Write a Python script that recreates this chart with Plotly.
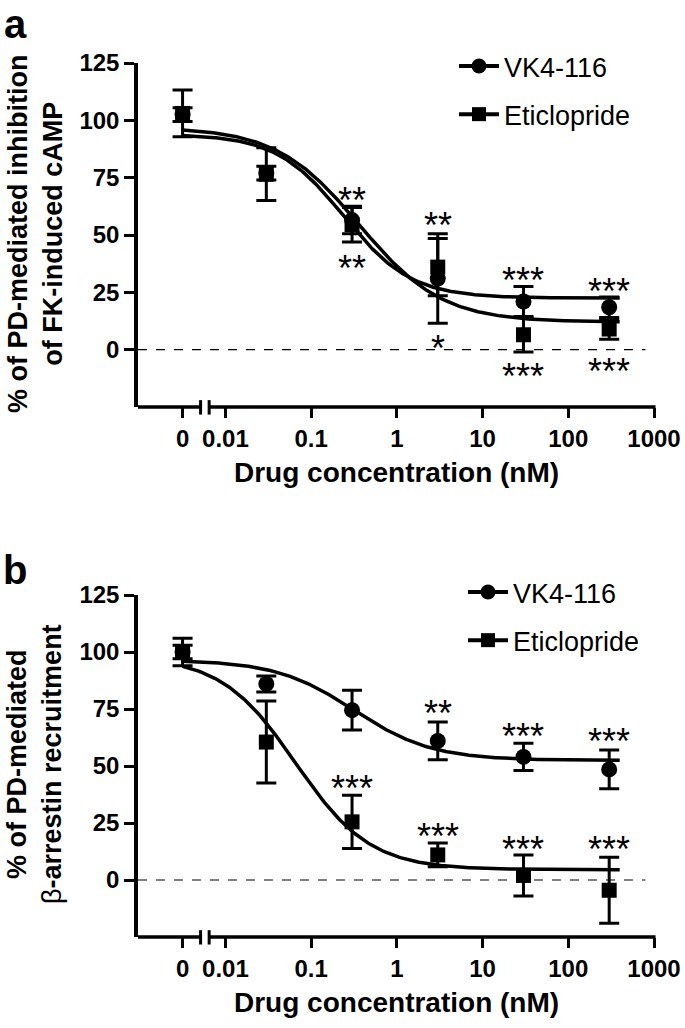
import numpy as np
import plotly.graph_objects as go

# ---------------- data ----------------
conc_nM = [0, 0.03, 0.3, 3, 30, 300]
x_tick_conc = [0, 0.01, 0.1, 1, 10, 100, 1000]
x_tick_text = ["0", "0.01", "0.1", "1", "10", "100", "1000"]
y_ticks = [0, 25, 50, 75, 100, 125]

# panel a: % of PD-mediated inhibition of FK-induced cAMP
a_vk_mean = [102.5, 77, 56.5, 31, 21, 18.5]
a_vk_sem = [3, 3, 6, 19.5, 6.5, 4.5]
a_eti_mean = [103, 76.5, 54.5, 36, 6.5, 9]
a_eti_sem = [10.2, 11.5, 7.5, 12.5, 7.5, 4.5]

# panel b: % of PD-mediated beta-arrestin recruitment
b_vk_mean = [100, 86, 74.5, 61, 54, 48.5]
b_vk_sem = [3, 3.5, 8.7, 8.3, 6, 8.5]
b_eti_mean = [100, 60.5, 25.5, 11, 2, -4.5]
b_eti_sem = [6, 18, 11.7, 5.2, 9, 14.5]

# fitted curve parameters (top, bottom, logIC50, hill)
a_vk_fit = (94, 22.5, -0.62, 1.1)
a_eti_fit = (97, 12, -0.44, 0.9)
b_vk_fit = (96.5, 52.5, -0.5, 0.95)
b_eti_fit = (98, 4.5, -1.18, 1.0)

# significance labels: (concentration, y position, text)
a_stars = [(0.3, 69, "**"), (0.3, 39.5, "**"), (3, 58, "**"), (3, 4.4, "*"),
           (30, 34.2, "***"), (30, -7.9, "***"), (300, 29.4, "***"), (300, -5.7, "***")]
b_stars = [(0.3, 43.9, "***"), (3, 76.8, "**"), (3, 23.2, "***"), (30, 66.7, "***"),
           (30, 17.5, "***"), (300, 64.5, "***"), (300, 17.5, "***")]

ZERO_POS = -2.5          # log10 position used for the "0" (vehicle) point
X_RANGE = [-3.02, 3]
Y_RANGE = [-25, 125]
BREAK = (-2.29, -2.19)   # axis break positions (log10 units)
CURVE_END = 2.6

FONT = "Liberation Sans, Arial, sans-serif"


def xpos(c):
    return ZERO_POS if c == 0 else float(np.log10(c))


def logistic(x, p):
    top, bot, logic50, hill = p
    return bot + (top - bot) / (1 + 10 ** ((x - logic50) * hill))


xs = [xpos(c) for c in conc_nM]
xcurve = np.linspace(ZERO_POS, CURVE_END, 300)

W, H = 685, 1028
x_dom = [138 / W, 654 / W]
ya_dom = [1 - 407 / H, 1 - 63 / H]
yb_dom = [1 - 937 / H, 1 - 595 / H]

fig = go.Figure()

panels = [
    ("x", "y", "legend", a_vk_mean, a_vk_sem, a_eti_mean, a_eti_sem, a_vk_fit, a_eti_fit),
    ("x2", "y2", "legend2", b_vk_mean, b_vk_sem, b_eti_mean, b_eti_sem, b_vk_fit, b_eti_fit),
]

for xa, ya, leg, vkm, vks, etm, ets, vkf, etf in panels:
    for fit in (vkf, etf):
        fig.add_trace(go.Scatter(x=xcurve, y=logistic(xcurve, fit), mode="lines",
                                 line=dict(color="black", width=3.5), xaxis=xa, yaxis=ya,
                                 showlegend=False, hoverinfo="skip"))
    fig.add_trace(go.Scatter(x=xs, y=vkm, mode="markers", xaxis=xa, yaxis=ya,
                             marker=dict(symbol="circle", size=16, color="black"),
                             error_y=dict(type="data", array=vks, color="black", thickness=3, width=10),
                             showlegend=False))
    fig.add_trace(go.Scatter(x=xs, y=etm, mode="markers", xaxis=xa, yaxis=ya,
                             marker=dict(symbol="square", size=15, color="black"),
                             error_y=dict(type="data", array=ets, color="black", thickness=3, width=10),
                             showlegend=False))
    # legend entries
    fig.add_trace(go.Scatter(x=[None], y=[None], mode="lines+markers", name="VK4-116",
                             line=dict(color="black", width=4), legendgroup="vk" + leg,
                             marker=dict(symbol="circle", size=15, color="black"),
                             xaxis=xa, yaxis=ya, legend=leg))
    fig.add_trace(go.Scatter(x=[None], y=[None], mode="lines+markers", name="Eticlopride",
                             line=dict(color="black", width=4), legendgroup="eti" + leg,
                             marker=dict(symbol="square", size=14, color="black"),
                             xaxis=xa, yaxis=ya, legend=leg))

xaxis_common = dict(range=X_RANGE, domain=x_dom, showline=False, showgrid=False, zeroline=False,
                    ticks="outside", ticklen=10, tickwidth=3, tickcolor="black",
                    tickvals=[xpos(c) for c in x_tick_conc], ticktext=x_tick_text,
                    tickfont=dict(family=FONT, size=24, color="black", weight="bold"))
yaxis_common = dict(range=Y_RANGE, showline=True, linewidth=3.5, linecolor="black",
                    showgrid=False, zeroline=False, ticks="outside", ticklen=10, tickwidth=3,
                    tickcolor="black", tickvals=y_ticks,
                    tickfont=dict(family=FONT, size=24, color="black", weight="bold"))

legend_common = dict(xanchor="left", yanchor="top", bgcolor="rgba(0,0,0,0)",
                     font=dict(family=FONT, size=27, color="black"),
                     tracegroupgap=10, itemwidth=40, traceorder="grouped")

fig.update_layout(
    width=W, height=H, margin=dict(l=0, r=0, t=0, b=0, autoexpand=False),
    plot_bgcolor="white", paper_bgcolor="white",
    xaxis=dict(anchor="y", **xaxis_common),
    yaxis=dict(anchor="x", domain=ya_dom, **yaxis_common),
    xaxis2=dict(anchor="y2", **xaxis_common),
    yaxis2=dict(anchor="x2", domain=yb_dom, **yaxis_common),
    legend=dict(x=454 / W, y=1 - 42 / H, **legend_common),
    legend2=dict(x=463 / W, y=1 - 568 / H, **legend_common),
)

shapes = []
annotations = []
frac1 = (BREAK[0] - X_RANGE[0]) / (X_RANGE[1] - X_RANGE[0])
frac2 = (BREAK[1] - X_RANGE[0]) / (X_RANGE[1] - X_RANGE[0])
for xa, ya in (("x", "y"), ("x2", "y2")):
    xd, yd = xa + " domain", ya + " domain"
    # broken x axis line
    shapes.append(dict(type="line", xref=xd, yref=yd, x0=0, x1=frac1, y0=0, y1=0,
                       line=dict(color="black", width=3.5)))
    shapes.append(dict(type="line", xref=xd, yref=yd, x0=frac2, x1=1.003, y0=0, y1=0,
                       line=dict(color="black", width=3.5)))
    for f in (frac1, frac2):
        shapes.append(dict(type="line", xref=xd, yref=yd, x0=f, x1=f, y0=-0.022, y1=0.02,
                           line=dict(color="black", width=3)))
    # dashed zero line
    shapes.append(dict(type="line", xref=xa, yref=ya, x0=X_RANGE[0], x1=2.9, y0=0, y1=0,
                       line=dict(color="black", width=1.2, dash="dash")))

for xa, ya, stars in (("x", "y", a_stars), ("x2", "y2", b_stars)):
    for c, yv, t in stars:
        annotations.append(dict(x=xpos(c), y=yv, xref=xa, yref=ya, text=t, showarrow=False,
                                xanchor="center", yanchor="middle", yshift=-9,
                                font=dict(family=FONT, size=36, color="black")))

# axis titles
for yc in (473, 1002):
    annotations.append(dict(x=396 / W, y=1 - yc / H, xref="paper", yref="paper",
                            text="<b>Drug concentration (nM)</b>", showarrow=False,
                            xanchor="center", yanchor="middle",
                            font=dict(family=FONT, size=28, color="black")))
annotations.append(dict(x=36 / W, y=1 - 234 / H, xref="paper", yref="paper", textangle=-90,
                        text="<b>% of PD-mediated inhibition</b><br><b>of FK-induced cAMP</b>",
                        showarrow=False, xanchor="center", yanchor="middle",
                        font=dict(family=FONT, size=27, color="black")))
annotations.append(dict(x=34 / W, y=1 - 764 / H, xref="paper", yref="paper", textangle=-90,
                        text="<b>% of PD-mediated</b><br>β<b>-arrestin recruitment</b>",
                        showarrow=False, xanchor="center", yanchor="middle",
                        font=dict(family=FONT, size=27, color="black")))
# panel letters
annotations.append(dict(x=15 / W, y=1, xref="paper", yref="paper", text="<b>a</b>",
                        showarrow=False, xanchor="center", yanchor="top",
                        font=dict(family=FONT, size=40, color="black")))
annotations.append(dict(x=15 / W, y=1 - 570 / H, xref="paper", yref="paper", text="<b>b</b>",
                        showarrow=False, xanchor="center", yanchor="middle",
                        font=dict(family=FONT, size=40, color="black")))

fig.update_layout(shapes=shapes, annotations=annotations)
fig.write_html("out.html", config={"displayModeBar": False},
               post_script="document.body.style.margin='0';")
